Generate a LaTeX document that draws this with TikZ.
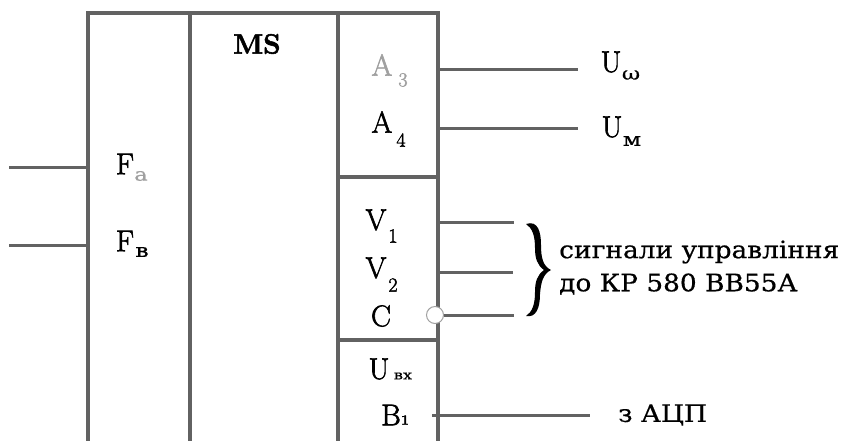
\documentclass[tikz,border=0pt]{standalone}
\usepackage{fontspec}
\setmainfont[FakeBold=2]{Latin Modern Roman}
\newfontfamily\cyr[FakeStretch=1.1,FakeBold=0.6]{DejaVu Serif}
\newfontfamily\cyrsub[FakeStretch=1.25,FakeBold=0.4]{DejaVu Serif}
\definecolor{linegray}{HTML}{626262}
\definecolor{inkfaint}{HTML}{A0A0A0}
\tikzset{
  x=1pt,y=-1pt,
  frameline/.style={draw=linegray,line width=4.8pt,line cap=rect},
  wire/.style={draw=linegray,line width=3pt},
  lab/.style={font=\fontsize{30}{31}\selectfont,inner sep=0pt,text=black},
  sublab/.style={font=\fontsize{20}{22}\selectfont,inner sep=0pt,text=black},
  cyrlab/.style={font=\cyr\fontsize{24}{26}\selectfont,inner sep=0pt,anchor=west,text=black},
  faint/.style={text=inkfaint},
  bubble/.style={circle,draw=linegray!60,fill=white,line width=1pt,minimum size=17pt,inner sep=0pt}
}
\begin{document}
\begin{tikzpicture}
\useasboundingbox[fill=white] (0,0) rectangle (842,440);
% frame corners
\coordinate (tl) at (88,13);
\coordinate (tm1) at (190,13);
\coordinate (tm2) at (338,13);
\coordinate (tr) at (438,13);
\coordinate (bl) at (88,440);
\coordinate (bm1) at (190,440);
\coordinate (bm2) at (338,440);
\coordinate (br) at (438,440);
\coordinate (d1l) at (338,177);
\coordinate (d1r) at (438,177);
\coordinate (d2l) at (338,340);
\coordinate (d2r) at (438,340);
\draw[frameline] (bl) -- (tl) -- (tr) -- (br);
\draw[frameline] (tm1) -- (bm1);
\draw[frameline] (tm2) -- (bm2);
\draw[frameline] (d1l) -- (d1r);
\draw[frameline] (d2l) -- (d2r);
% labels
\node[lab,font=\bfseries\fontsize{28}{29}\selectfont] (ms) at (257,44) {MS};
\node[lab,faint] (a3) at (382,65) {A};
\node[sublab,faint] (a3s) at (403,80) {3};
\node[lab] (a4) at (382,122) {A};
\node[sublab] (a4s) at (401,140) {4};
\node[lab] (fa) at (125,164) {F};
\node[sublab,faint,font=\cyrsub\fontsize{18}{19}\selectfont] (fas) at (141,176) {а};
\node[lab] (fb) at (125,241) {F};
\node[sublab,font=\cyrsub\fontsize{19}{20}\selectfont] (fbs) at (142,252) {в};
\node[lab] (v1) at (376,220) {V};
\node[sublab] (v1s) at (393,236) {1};
\node[lab] (v2) at (376,268) {V};
\node[sublab] (v2s) at (393,285) {2};
\node[lab] (c) at (381,316) {C};
\node[lab] (u) at (379,369) {U};
\node[sublab,font=\cyrsub\fontsize{13}{14}\selectfont] (us) at (403,376) {вх};
\node[lab] (b) at (391,415) {B};
\node[sublab,font=\fontsize{14}{14}\selectfont\bfseries] (bs) at (405,420) {1};
% outer terminals
\coordinate (fain) at (9,167);
\coordinate (fbin) at (9,245);
\coordinate (fapin) at (88,167);
\coordinate (fbpin) at (88,245);
\coordinate (a3pin) at (438,69);
\coordinate (a4pin) at (438,128);
\coordinate (v1pin) at (438,222);
\coordinate (v2pin) at (438,272);
\coordinate (b1pin) at (432,415);
\coordinate (a3out) at (578,69);
\coordinate (a4out) at (578,128);
\coordinate (v1out) at (514,222);
\coordinate (v2out) at (513,272);
\coordinate (cout) at (514,315);
\coordinate (b1out) at (590,415);
\draw[wire] (fain) -- (fapin);
\draw[wire] (fbin) -- (fbpin);
\draw[wire] (a3pin) -- (a3out);
\draw[wire] (a4pin) -- (a4out);
\draw[wire] (v1pin) -- (v1out);
\draw[wire] (v2pin) -- (v2out);
\draw[wire] (b1pin) -- (b1out);
\node[bubble] (cb) at (435,315) {};
\draw[wire] (cb) -- (cout);
% right labels
\node[lab] (uw) at (611,62) {U};
\node[sublab,font=\cyrsub\fontsize{18}{18}\selectfont] (uws) at (631,75) {ω};
\node[lab] (um) at (612,127) {U};
\node[sublab,font=\cyrsub\fontsize{19}{19}\selectfont] (ums) at (632,141) {м};
% brace
\fill[black] (526,224)
  .. controls (538,220) and (541,232) .. (541,245)
  .. controls (541,258) and (543,266) .. (551,270)
  .. controls (543,274) and (541,282) .. (540,294)
  .. controls (540,308) and (536,318) .. (526,316)
  .. controls (532,312) and (535,305) .. (535,292)
  .. controls (535,282) and (537,275) .. (544,270)
  .. controls (537,265) and (535,258) .. (535,248)
  .. controls (535,235) and (532,228) .. (526,224) -- cycle;
\node[cyrlab] (t1) at (559,252) {сигнали управління};
\node[cyrlab] (t2) at (559,284) {до КР 580 ВВ55А};
\node[cyrlab] (t3) at (618,415) {з АЦП};
\end{tikzpicture}
\end{document}
